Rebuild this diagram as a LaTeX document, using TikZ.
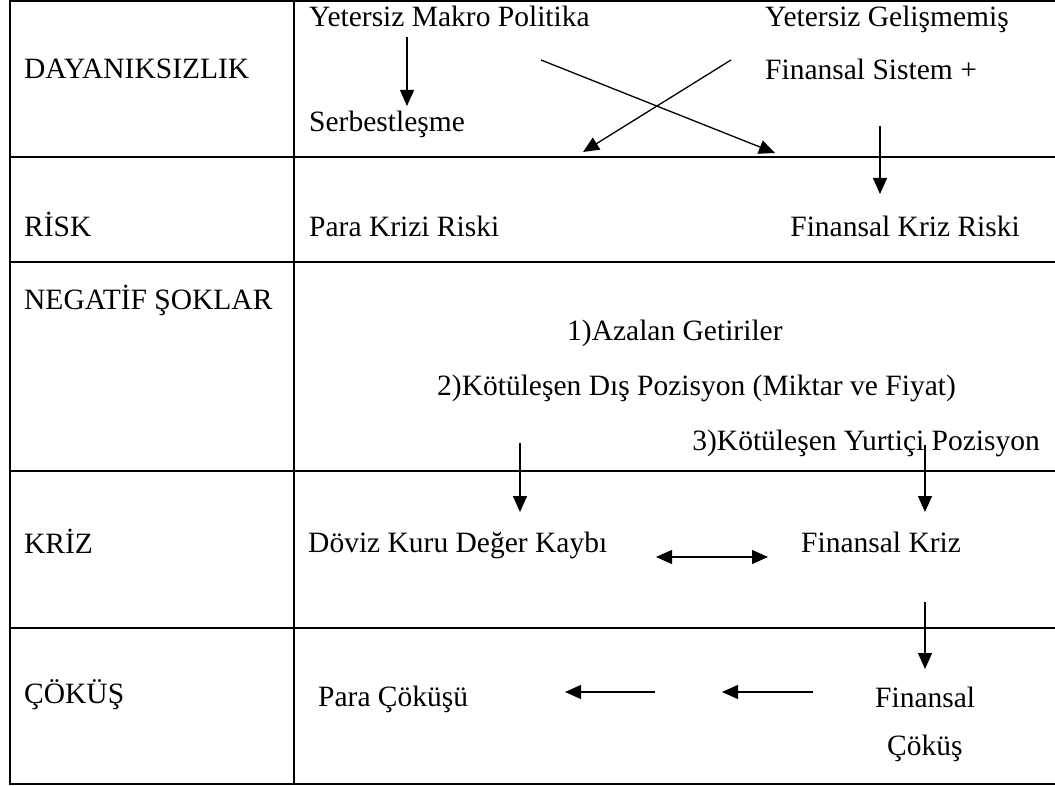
\documentclass[tikz,border=0pt]{standalone}
\usepackage{fontspec}
\setmainfont{Liberation Serif}
\usetikzlibrary{arrows.meta}
\begin{document}
\begin{tikzpicture}[x=1pt,y=-1pt,
  txt/.style={anchor=base west,inner sep=0pt,font=\fontsize{29.5}{35}\selectfont},
  txtr/.style={anchor=base east,inner sep=0pt,font=\fontsize{29.5}{35}\selectfont},
  gridline/.style={line width=1.5pt},
  arr/.style={line width=1.3pt,-{Triangle[width=14pt,length=16pt]}},
  darr/.style={line width=1.3pt,{Triangle[width=14pt,length=16pt]}-{Triangle[width=14pt,length=16pt]}},
]
\useasboundingbox (0,0) rectangle (1055,786);
% table
\draw[gridline] (10,1) -- (1055,1);
\draw[gridline] (10,157) -- (1055,157);
\draw[gridline] (10,262) -- (1055,262);
\draw[gridline] (10,471) -- (1055,471);
\draw[gridline] (10,628) -- (1055,628);
\draw[line width=2pt] (10,784) -- (1055,784);
\draw[line width=1.8pt] (10,0) -- (10,785);
\draw[line width=1.8pt] (294,0) -- (294,785);
% left labels
\node[txt] (l1) at (24,79) {DAYANIKSIZLIK};
\node[txt] (l2) at (24,237) {RİSK};
\node[txt] (l3) at (24,310) {NEGATİF ŞOKLAR};
\node[txt] (l4) at (24,553) {KRİZ};
\node[txt] (l5) at (24,703) {ÇÖKÜŞ};
% row 1
\node[txt] (ymp) at (309,27) {Yetersiz Makro Politika};
\node[txt] (serb) at (309,132) {Serbestleşme};
\node[txt] (ygel) at (765,27) {Yetersiz Gelişmemiş};
\node[txt] (fsis) at (765,80) {Finansal Sistem +};
\coordinate (a1s) at (407,37);
\coordinate (a1e) at (407,106);
\draw[arr] (a1s) -- (a1e);
\coordinate (x1s) at (541,60);
\coordinate (x1e) at (775,153);
\draw[arr] (x1s) -- (x1e);
\coordinate (x2s) at (731,60);
\coordinate (x2e) at (583,152);
\draw[arr] (x2s) -- (x2e);
\coordinate (a2s) at (880,126);
\coordinate (a2e) at (880,194);
\draw[arr] (a2s) -- (a2e);
% row 2
\node[txt] (pkr) at (309,237) {Para Krizi Riski};
\node[txtr] (fkr) at (1020,237) {Finansal Kriz Riski};
% row 3
\node[txt] (s1) at (567,341) {1)Azalan Getiriler};
\node[txt] (s2) at (437,395) {2)Kötüleşen Dış Pozisyon (Miktar ve Fiyat)};
\node[txtr] (s3) at (1040,450) {3)Kötüleşen Yurtiçi Pozisyon};
\coordinate (a3s) at (520,443);
\coordinate (a3e) at (520,512);
\draw[arr] (a3s) -- (a3e);
\coordinate (a4s) at (925,445);
\coordinate (a4e) at (925,512);
\draw[arr] (a4s) -- (a4e);
% row 4
\node[txt] (dkdk) at (308,552) {Döviz Kuru Değer Kaybı};
\node[txt] (fk) at (801,552) {Finansal Kriz};
\coordinate (d1) at (656,557);
\coordinate (d2) at (768,557);
\draw[darr] (d1) -- (d2);
\coordinate (a5s) at (925,602);
\coordinate (a5e) at (925,669);
\draw[arr] (a5s) -- (a5e);
% row 5
\node[txt] (pc) at (318,706) {Para Çöküşü};
\node[txt] (fin) at (875,707) {Finansal};
\node[txt] (cok) at (887,755) {Çöküş};
\coordinate (b1s) at (655,692);
\coordinate (b1e) at (565,692);
\draw[arr] (b1s) -- (b1e);
\coordinate (b2s) at (813,692);
\coordinate (b2e) at (722,692);
\draw[arr] (b2s) -- (b2e);
\end{tikzpicture}
\end{document}
